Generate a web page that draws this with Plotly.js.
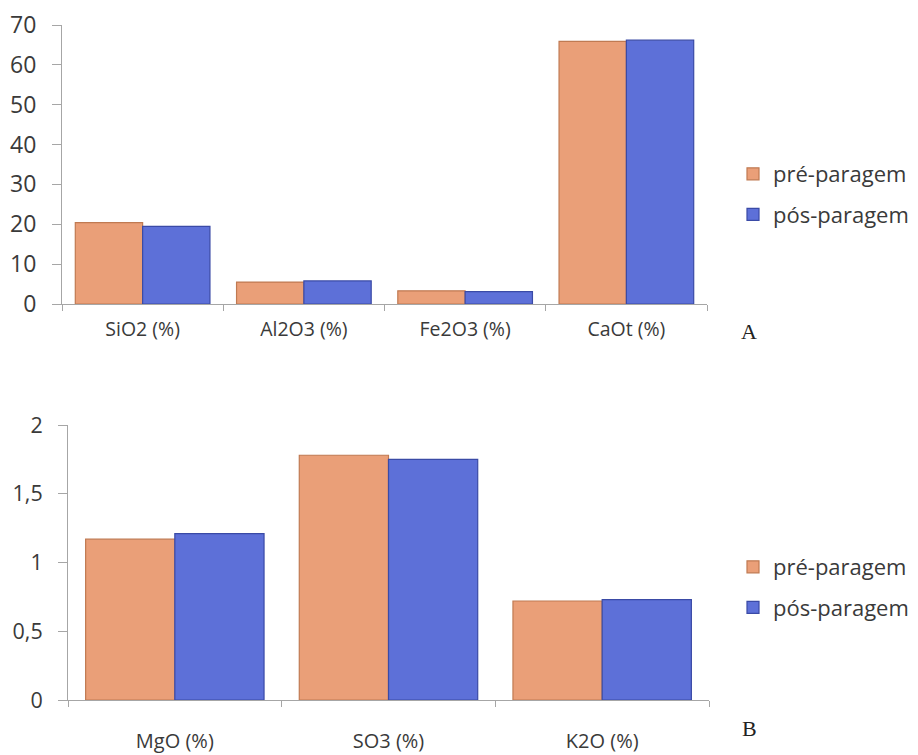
<!DOCTYPE html>
<html>
<head>
<meta charset="utf-8">
<script src="https://cdn.plot.ly/plotly-3.0.1.min.js"></script>
<style>
  html, body { margin: 0; padding: 0; background: #ffffff; }
  #chart { width: 918px; height: 755px; }
</style>
</head>
<body>
<div id="chart"></div>
<script>
// Panel A: major oxides
const majorOxides = ['SiO2 (%)', 'Al2O3 (%)', 'Fe2O3 (%)', 'CaOt (%)'];
const majorPre = [20.4, 5.5, 3.3, 65.9];
const majorPost = [19.5, 5.8, 3.1, 66.2];
const majorTickVals = [0, 10, 20, 30, 40, 50, 60, 70];
const majorTickText = ['0', '10', '20', '30', '40', '50', '60', '70'];

// Panel B: minor oxides
const minorOxides = ['MgO (%)', 'SO3 (%)', 'K2O (%)'];
const minorPre = [1.17, 1.78, 0.72];
const minorPost = [1.21, 1.75, 0.73];
const minorTickVals = [0, 0.5, 1, 1.5, 2];
const minorTickText = ['0', '0,5', '1', '1,5', '2'];

const seriesNames = ['pré-paragem', 'pós-paragem'];
const panelLabels = ['A', 'B'];

const FONT = 'Open Sans, Noto Sans, sans-serif';
const SERIF = 'Liberation Serif, Times New Roman, serif';
const TXT = '#3a3a3a';
const AXIS = '#a6a6a6';
const orange = { fill: '#EA9F78', edge: '#C07A52' };
const blue = { fill: '#5D70D8', edge: '#3A4AA6' };

function bar(x, y, name, col, xa, ya, lg, group) {
  return {
    type: 'bar', x: x, y: y, name: name,
    xaxis: xa, yaxis: ya, legend: lg, legendgroup: group,
    marker: { color: col.fill, line: { color: col.edge, width: 1.2 } },
    hoverinfo: 'x+y'
  };
}

const data = [
  bar(majorOxides, majorPre, seriesNames[0], orange, 'x', 'y', 'legend', 'a1'),
  bar(majorOxides, majorPost, seriesNames[1], blue, 'x', 'y', 'legend', 'a2'),
  bar(minorOxides, minorPre, seriesNames[0], orange, 'x2', 'y2', 'legend2', 'b1'),
  bar(minorOxides, minorPost, seriesNames[1], blue, 'x2', 'y2', 'legend2', 'b2')
];

function catAxis(domain, size, standoff) {
  return {
    domain: domain, type: 'category', tickson: 'boundaries',
    ticks: 'outside', ticklen: 6, tickcolor: AXIS, tickwidth: 1,
    showline: true, linecolor: AXIS, linewidth: 1,
    showgrid: false, zeroline: false, automargin: false,
    ticklabelstandoff: standoff,
    tickfont: { family: FONT, size: size, color: TXT }
  };
}
function valAxis(domain, range, vals, text, size, anchor) {
  return {
    domain: domain, range: range, anchor: anchor,
    tickmode: 'array', tickvals: vals, ticktext: text,
    ticks: 'outside', ticklen: 9, tickcolor: AXIS, tickwidth: 1,
    showline: true, linecolor: AXIS, linewidth: 1,
    showgrid: false, zeroline: false, automargin: false,
    ticklabelstandoff: 11,
    tickfont: { family: FONT, size: size, color: TXT }
  };
}

const W = 918, H = 755;
const legendBase = {
  xanchor: 'left', yanchor: 'top', bgcolor: 'rgba(0,0,0,0)',
  font: { family: FONT, size: 22, color: TXT },
  traceorder: 'grouped', tracegroupgap: 9, itemwidth: 30
};

function panelLabel(text, y) {
  return {
    text: text, xref: 'paper', yref: 'paper', x: 749 / W, y: 1 - y / H,
    xanchor: 'center', yanchor: 'middle', showarrow: false,
    font: { family: SERIF, size: 22, color: '#222' }
  };
}

const layout = {
  width: W, height: H,
  margin: { l: 0, r: 0, t: 0, b: 0 },
  paper_bgcolor: '#ffffff', plot_bgcolor: '#ffffff',
  showlegend: true,
  barmode: 'group',
  bargap: 0.165, bargroupgap: 0,
  xaxis: catAxis([62 / W, 707 / W], 19.5, 8),
  yaxis: valAxis([1 - 304 / H, 1 - 25 / H], [0, 70], majorTickVals, majorTickText, 23, 'x'),
  xaxis2: Object.assign(catAxis([68 / W, 709 / W], 20, 23), { anchor: 'y2' }),
  yaxis2: valAxis([1 - 700 / H, 1 - 425 / H], [0, 2], minorTickVals, minorTickText, 21.5, 'x2'),
  legend: Object.assign({}, legendBase, { x: 733 / W, y: 1 - 153 / H }),
  legend2: Object.assign({}, legendBase, { x: 733 / W, y: 1 - 546 / H }),
  annotations: [panelLabel(panelLabels[0], 331), panelLabel(panelLabels[1], 728)]
};

Plotly.newPlot('chart', data, layout, { displayModeBar: false, staticPlot: true });
</script>
</body>
</html>
